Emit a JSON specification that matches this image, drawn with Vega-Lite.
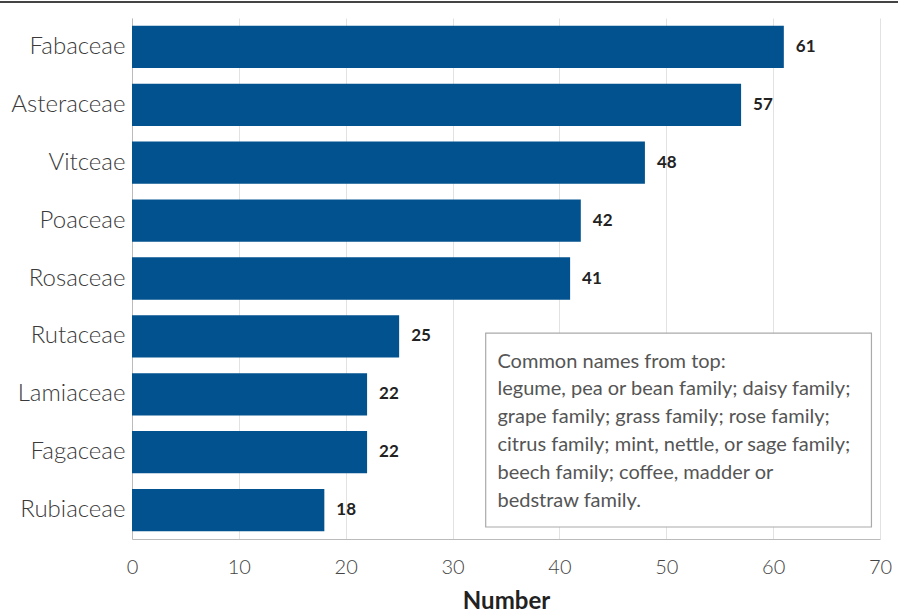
{
  "$schema": "https://vega.github.io/schema/vega-lite/v6.json",
  "width": 748,
  "height": 521,
  "autosize": {"type": "none"},
  "padding": {"left": 132, "top": 18, "right": 18, "bottom": 74},
  "background": "white",
  "config": {
    "font": "Lato",
    "view": {"stroke": null},
    "axis": {"labelFont": "Lato", "titleFont": "Lato"}
  },
  "layer": [
    {
      "data": {
        "values": [
          {"family": "Fabaceae", "count": 61},
          {"family": "Asteraceae", "count": 57},
          {"family": "Vitceae", "count": 48},
          {"family": "Poaceae", "count": 42},
          {"family": "Rosaceae", "count": 41},
          {"family": "Rutaceae", "count": 25},
          {"family": "Lamiaceae", "count": 22},
          {"family": "Fagaceae", "count": 22},
          {"family": "Rubiaceae", "count": 18}
        ]
      },
      "encoding": {
        "y": {
          "field": "family",
          "type": "nominal",
          "sort": ["Fabaceae", "Asteraceae", "Vitceae", "Poaceae", "Rosaceae", "Rutaceae", "Lamiaceae", "Fagaceae", "Rubiaceae"],
          "scale": {"paddingInner": 0.27, "paddingOuter": 0.135},
          "axis": {
            "title": null,
            "ticks": false,
            "domainColor": "#bbbbbb",
            "domainWidth": 1,
            "labelFontSize": 24,
            "labelFontWeight": 300,
            "labelColor": "#3a3a3a",
            "labelPadding": 7
          }
        },
        "x": {
          "field": "count",
          "type": "quantitative",
          "scale": {"domain": [0, 70], "nice": false},
          "axis": {
            "title": "Number",
            "titleFontSize": 24,
            "titleFontWeight": "bold",
            "titleColor": "#222222",
            "titlePadding": 12,
            "values": [0, 10, 20, 30, 40, 50, 60, 70],
            "ticks": false,
            "labelFlush": false,
            "labelFontSize": 20,
            "labelColor": "#444444",
            "labelPadding": 18,
            "labelFontWeight": 300,
            "domainColor": "#bbbbbb",
            "grid": true,
            "gridColor": "#e2e2e2",
            "gridWidth": 1
          }
        }
      },
      "layer": [
        {"mark": {"type": "bar", "color": "#02528f"}},
        {
          "mark": {"type": "text", "align": "left", "dx": 12, "fontSize": 17, "fontWeight": "bold", "color": "#222222"},
          "encoding": {"text": {"field": "count", "type": "quantitative"}}
        }
      ]
    },
    {
      "data": {
        "values": [
          {"x": 33.1, "x2": 69.2, "y": 0.395, "y2": 0.023, "tx": 34.2, "ty": 0.329, "rx": -12.4, "rx2": 71.8, "ry": 1.0307,
           "lines": ["Common names from top:", "legume, pea or bean family; daisy family;", "grape family; grass family; rose family;", "citrus family; mint, nettle, or sage family;", "beech family; coffee, madder or", "bedstraw family."]}
        ]
      },
      "encoding": {
        "y": {"field": "y", "type": "quantitative", "scale": {"domain": [0, 1], "nice": false}, "axis": null}
      },
      "layer": [
        {
          "mark": {"type": "rect", "fill": "white", "stroke": "#aaaaaa", "strokeWidth": 1.2},
          "encoding": {
            "x": {"field": "x", "type": "quantitative"},
            "x2": {"field": "x2"},
            "y2": {"field": "y2"}
          }
        },
        {
          "mark": {"type": "text", "align": "left", "baseline": "alphabetic", "fontSize": 20, "lineHeight": 27.8, "color": "#555555"},
          "encoding": {
            "x": {"field": "tx", "type": "quantitative"},
            "y": {"field": "ty", "type": "quantitative"},
            "text": {"field": "lines"}
          }
        },
        {
          "mark": {"type": "rule", "color": "#444444", "strokeWidth": 2},
          "encoding": {
            "x": {"field": "rx", "type": "quantitative"},
            "x2": {"field": "rx2"},
            "y": {"field": "ry", "type": "quantitative"}
          }
        }
      ]
    }
  ],
  "resolve": {"scale": {"y": "independent"}, "axis": {"y": "independent"}}
}
